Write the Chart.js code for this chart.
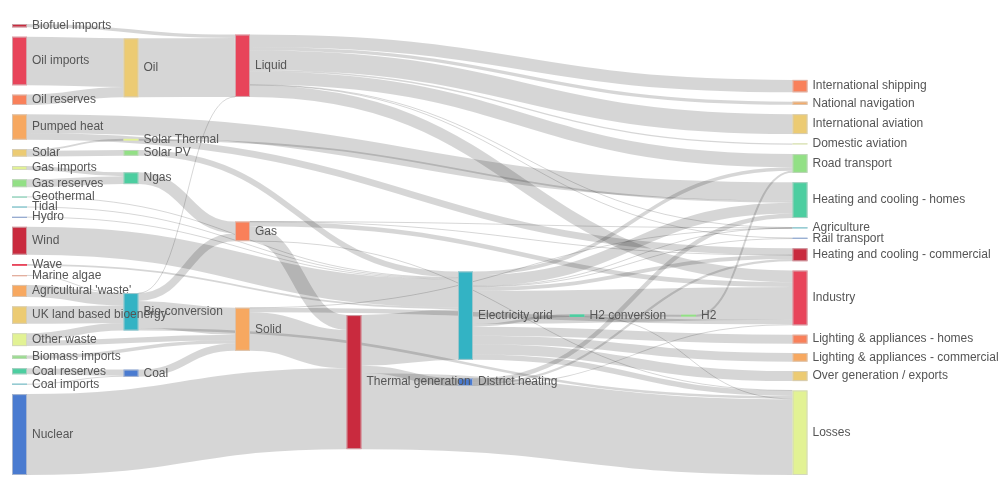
<!DOCTYPE html>
<html><head><meta charset="utf-8">
<script src="https://cdn.jsdelivr.net/npm/chart.js@4.4.1/dist/chart.umd.min.js"></script>
<style>html,body{margin:0;padding:0;background:#fff}#wrap{width:1000px;height:500px}</style>
</head><body><div id="wrap"><canvas id="c" width="1000" height="500"></canvas></div>
<script>
// ---------------- DATA ----------------
const nodeNames = ["Agricultural 'waste'","Bio-conversion","Liquid","Losses","Solid","Gas","Biofuel imports","Biomass imports","Coal imports","Coal","Coal reserves","District heating","Industry","Heating and cooling - commercial","Heating and cooling - homes","Electricity grid","Over generation / exports","H2 conversion","Road transport","Agriculture","Rail transport","Lighting & appliances - commercial","Lighting & appliances - homes","Gas imports","Ngas","Gas reserves","Thermal generation","Geothermal","H2","Hydro","International shipping","Domestic aviation","International aviation","National navigation","Marine algae","Nuclear","Oil imports","Oil","Oil reserves","Other waste","Pumped heat","Solar PV","Solar Thermal","Solar","Tidal","UK land based bioenergy","Wave","Wind"];
const linkSource = [0,1,1,1,1,6,7,8,10,9,11,11,11,15,15,15,15,15,15,15,15,15,15,15,23,25,5,5,5,5,5,27,17,17,28,29,2,2,2,2,2,2,2,2,34,24,35,36,38,37,39,39,40,40,41,42,43,43,4,4,4,26,26,26,44,45,46,47];
const linkTarget = [1,2,3,4,5,2,4,9,9,4,12,13,14,16,14,17,12,18,19,13,3,20,21,22,24,24,13,3,26,19,12,15,28,3,18,15,12,30,18,31,32,19,33,20,1,5,26,37,37,2,4,1,14,13,15,14,42,41,19,26,12,15,3,11,15,1,15,15];
const linkValue = [124.729,0.597,26.862,280.322,81.144,35,35,11.606,63.965,75.571,10.639,22.505,46.184,104.453,113.726,27.14,342.165,37.797,4.412,40.858,56.691,7.863,90.008,93.494,40.719,82.233,0.129,1.401,151.891,2.096,48.58,7.013,20.897,6.242,20.897,6.995,121.066,128.69,135.835,14.458,206.267,3.64,33.218,4.413,4.375,122.952,839.978,504.287,107.703,611.99,56.587,77.81,193.026,70.672,59.901,19.263,19.263,59.901,0.882,400.12,46.477,525.531,787.129,79.329,9.452,182.01,19.013,289.366];
// vertical order of the nodes inside their column (top to bottom)
const nodeOrder = ["Biofuel imports","Oil imports","Oil reserves","Pumped heat","Solar","Gas imports","Gas reserves","Geothermal","Tidal","Hydro","Wind","Wave","Marine algae","Agricultural 'waste'","UK land based bioenergy","Other waste","Biomass imports","Coal reserves","Coal imports","Nuclear",
  "Oil","Solar Thermal","Solar PV","Ngas","Bio-conversion","Coal",
  "Liquid","Gas","Solid","Thermal generation","Electricity grid","District heating","H2 conversion","H2",
  "International shipping","National navigation","International aviation","Domestic aviation","Road transport","Heating and cooling - homes","Agriculture","Rail transport","Heating and cooling - commercial","Industry","Lighting & appliances - homes","Lighting & appliances - commercial","Over generation / exports","Losses"];

// ---------------- STYLE ----------------
const palette = ['#c92a3e','#e8445a','#f9805a','#f7a860','#eccb73','#e2f294','#92e085','#4ccea0','#33b3c4','#4a7bd0'];
const nodeColorIdx = {"Biofuel imports":0,"Oil imports":1,"Oil reserves":2,"Pumped heat":3,"Solar":4,"Gas imports":5,"Gas reserves":6,"Geothermal":7,"Tidal":8,"Hydro":9,"Wind":0,"Wave":1,"Marine algae":2,"Agricultural 'waste'":3,"UK land based bioenergy":4,"Other waste":5,"Biomass imports":6,"Coal reserves":7,"Coal imports":8,"Nuclear":9,"Oil":4,"Solar Thermal":5,"Solar PV":6,"Ngas":7,"Bio-conversion":8,"Coal":9,"Liquid":1,"Gas":2,"Solid":3,"Thermal generation":0,"Electricity grid":8,"District heating":9,"H2 conversion":7,"H2":6,"International shipping":2,"National navigation":3,"International aviation":4,"Domestic aviation":5,"Road transport":6,"Heating and cooling - homes":7,"Agriculture":8,"Rail transport":9,"Heating and cooling - commercial":0,"Industry":1,"Lighting & appliances - homes":2,"Lighting & appliances - commercial":3,"Over generation / exports":4,"Losses":5};
const NODE_WIDTH_PX = 15;
const NODE_PAD = 97;      // vertical gap between nodes, in flow units
const ITERATIONS = 32;

// ---------------- SANKEY LAYOUT (classic d3-sankey relaxation, fixed order, in flow units) ----------------
function sankeyLayout() {
  const nodes = nodeNames.map((name, i) => ({name, index: i, rank: nodeOrder.indexOf(name), sourceLinks: [], targetLinks: []}));
  const links = linkValue.map((v, i) => ({index: i, source: nodes[linkSource[i]], target: nodes[linkTarget[i]], value: v}));
  for (const l of links) { l.source.sourceLinks.push(l); l.target.targetLinks.push(l); }
  const sumv = arr => arr.reduce((a, l) => a + l.value, 0);
  for (const n of nodes) n.value = Math.max(sumv(n.sourceLinks), sumv(n.targetLinks));
  let cur = nodes.slice(), next = [], x = 0;
  for (; cur.length; ++x, cur = next, next = []) {
    cur.forEach(n => { n.depth = x; n.sourceLinks.forEach(l => { if (next.indexOf(l.target) < 0) next.push(l.target); }); });
    if (x > nodes.length) break;
  }
  const nLayers = x;
  for (const n of nodes) n.layer = n.sourceLinks.length ? n.depth : nLayers - 1;
  const columns = [];
  for (const n of nodes) (columns[n.layer] = columns[n.layer] || []).push(n);
  for (const c of columns) c.sort((a, b) => a.rank - b.rank);
  const y0 = 0;
  const py = NODE_PAD;
  const y1 = Math.max(...columns.map(c => c.reduce((a, n) => a + n.value, 0) + (c.length - 1) * py));
  const ky = Math.min(...columns.map(c => (y1 - y0 - (c.length - 1) * py) / c.reduce((a, n) => a + n.value, 0)));
  const center = n => (n.y0 + n.y1) / 2;
  columns.forEach(col => col.forEach((n, i) => { n.y0 = i; n.y1 = i + n.value * ky; }));
  links.forEach(l => { l.width = l.value * ky; });
  function resolveCollisions() {
    columns.forEach(col => {
      let y = y0, n, d;
      for (let i = 0; i < col.length; ++i) { n = col[i]; d = y - n.y0; if (d > 0) { n.y0 += d; n.y1 += d; } y = n.y1 + py; }
      d = y - py - y1;
      if (d > 0) {
        y = (n.y0 -= d); n.y1 -= d;
        for (let i = col.length - 2; i >= 0; --i) { n = col[i]; d = n.y1 + py - y; if (d > 0) { n.y0 -= d; n.y1 -= d; } y = n.y0; }
      }
    });
  }
  const moveToSources = (n, alpha) => {
    if (!n.targetLinks.length) return;
    const d = (n.targetLinks.reduce((a, l) => a + center(l.source) * l.value, 0) / sumv(n.targetLinks) - center(n)) * alpha;
    n.y0 += d; n.y1 += d;
  };
  function relaxLR(alpha) { columns.forEach(col => col.forEach(n => moveToSources(n, alpha))); }
  function relaxRL(alpha) {
    columns.slice().reverse().forEach(col => col.forEach(n => {
      if (n.sourceLinks.length) {
        const d = (n.sourceLinks.reduce((a, l) => a + center(l.target) * l.value, 0) / sumv(n.sourceLinks) - center(n)) * alpha;
        n.y0 += d; n.y1 += d;
      }
    }));
  }
  resolveCollisions();
  for (let alpha = 1, k = ITERATIONS; k > 0; --k) {
    relaxRL(alpha *= 0.99); resolveCollisions();
    relaxLR(alpha); resolveCollisions();
  }
  // final pass: inner columns settle on their inflows, collisions resolved around the middle node
  function collTB(ns, y, i) { for (; i < ns.length; ++i) { const n = ns[i]; const d = y - n.y0; if (d > 1e-6) { n.y0 += d; n.y1 += d; } y = n.y1 + py; } }
  function collBT(ns, y, i) { for (; i >= 0; --i) { const n = ns[i]; const d = n.y1 - y; if (d > 1e-6) { n.y0 -= d; n.y1 -= d; } y = n.y0 - py; } }
  for (let c = 1; c < nLayers - 1; ++c) {
    const col = columns[c];
    col.forEach(n => moveToSources(n, 1));
    const i = col.length >> 1, s = col[i];
    collBT(col, s.y0 - py, i - 1); collTB(col, s.y1 + py, i + 1);
    collBT(col, y1, col.length - 1); collTB(col, y0, 0);
  }
  for (const n of nodes) {
    n.sourceLinks.sort((a, b) => a.target.y0 - b.target.y0);
    n.targetLinks.sort((a, b) => a.source.y0 - b.source.y0);
  }
  for (const n of nodes) {
    let a = n.y0, b = n.y0;
    for (const l of n.sourceLinks) { l.y0 = a + l.width / 2; a += l.width; }
    for (const l of n.targetLinks) { l.y1 = b + l.width / 2; b += l.width; }
  }
  return {nodes, links, nLayers, yMax: y1};
}

const graph = sankeyLayout();

// ---------------- DRAWING PLUGIN ----------------
const sankeyPlugin = {
  id: 'sankeyDraw',
  afterDatasetsDraw(chart) {
    const {ctx, scales: {x, y}} = chart;
    const px = v => y.getPixelForValue(v);
    const unit = Math.abs(y.getPixelForValue(1) - y.getPixelForValue(0));
    ctx.save();
    for (const l of graph.links) {
      const xs = x.getPixelForValue(l.source.layer) + NODE_WIDTH_PX;
      const xt = x.getPixelForValue(l.target.layer);
      const ys = px(l.y0), yt = px(l.y1), xm = (xs + xt) / 2;
      ctx.beginPath();
      ctx.moveTo(xs, ys);
      ctx.bezierCurveTo(xm, ys, xm, yt, xt, yt);
      ctx.lineWidth = Math.max(1, l.width * unit);
      ctx.strokeStyle = 'rgba(0,0,0,0.16)';
      ctx.stroke();
    }
    ctx.font = '12px "Helvetica Neue", Helvetica, Arial, "Liberation Sans", sans-serif';
    ctx.textBaseline = 'middle';
    ctx.textAlign = 'left';
    for (const n of graph.nodes) {
      const x0 = x.getPixelForValue(n.layer);
      const top = px(n.y0), bot = px(n.y1);
      const h = bot - top;
      if (h >= 1.5) {
        ctx.fillStyle = palette[nodeColorIdx[n.name]];
        ctx.fillRect(x0, top, NODE_WIDTH_PX, h);
        if (h > 3) {
          ctx.lineWidth = 1;
          ctx.strokeStyle = 'rgba(205,205,205,0.7)';
          ctx.strokeRect(x0 + 0.5, top + 0.5, NODE_WIDTH_PX - 1, h - 1);
        }
      } else {
        ctx.fillStyle = palette[nodeColorIdx[n.name]];
        ctx.fillRect(x0, top, NODE_WIDTH_PX, 1);
        ctx.fillStyle = 'rgba(200,200,200,0.6)';
        ctx.fillRect(x0, top, NODE_WIDTH_PX, 1);
      }
      ctx.fillStyle = '#555';
      ctx.fillText(n.name, x0 + NODE_WIDTH_PX + 5, (top + bot) / 2);
    }
    ctx.restore();
  }
};

new Chart(document.getElementById('c'), {
  type: 'scatter',
  data: { datasets: [{ data: [], pointRadius: 0 }] },
  options: {
    responsive: false,
    animation: false,
    layout: { padding: { left: 12, right: 207.5, top: 24, bottom: 25 } },
    plugins: { legend: { display: false }, tooltip: { enabled: false } },
    scales: {
      x: { type: 'linear', display: false, min: 0, max: graph.nLayers - 1 },
      y: { type: 'linear', display: false, min: 0, max: graph.yMax, reverse: true }
    }
  },
  plugins: [sankeyPlugin]
});
</script>
</body></html>
